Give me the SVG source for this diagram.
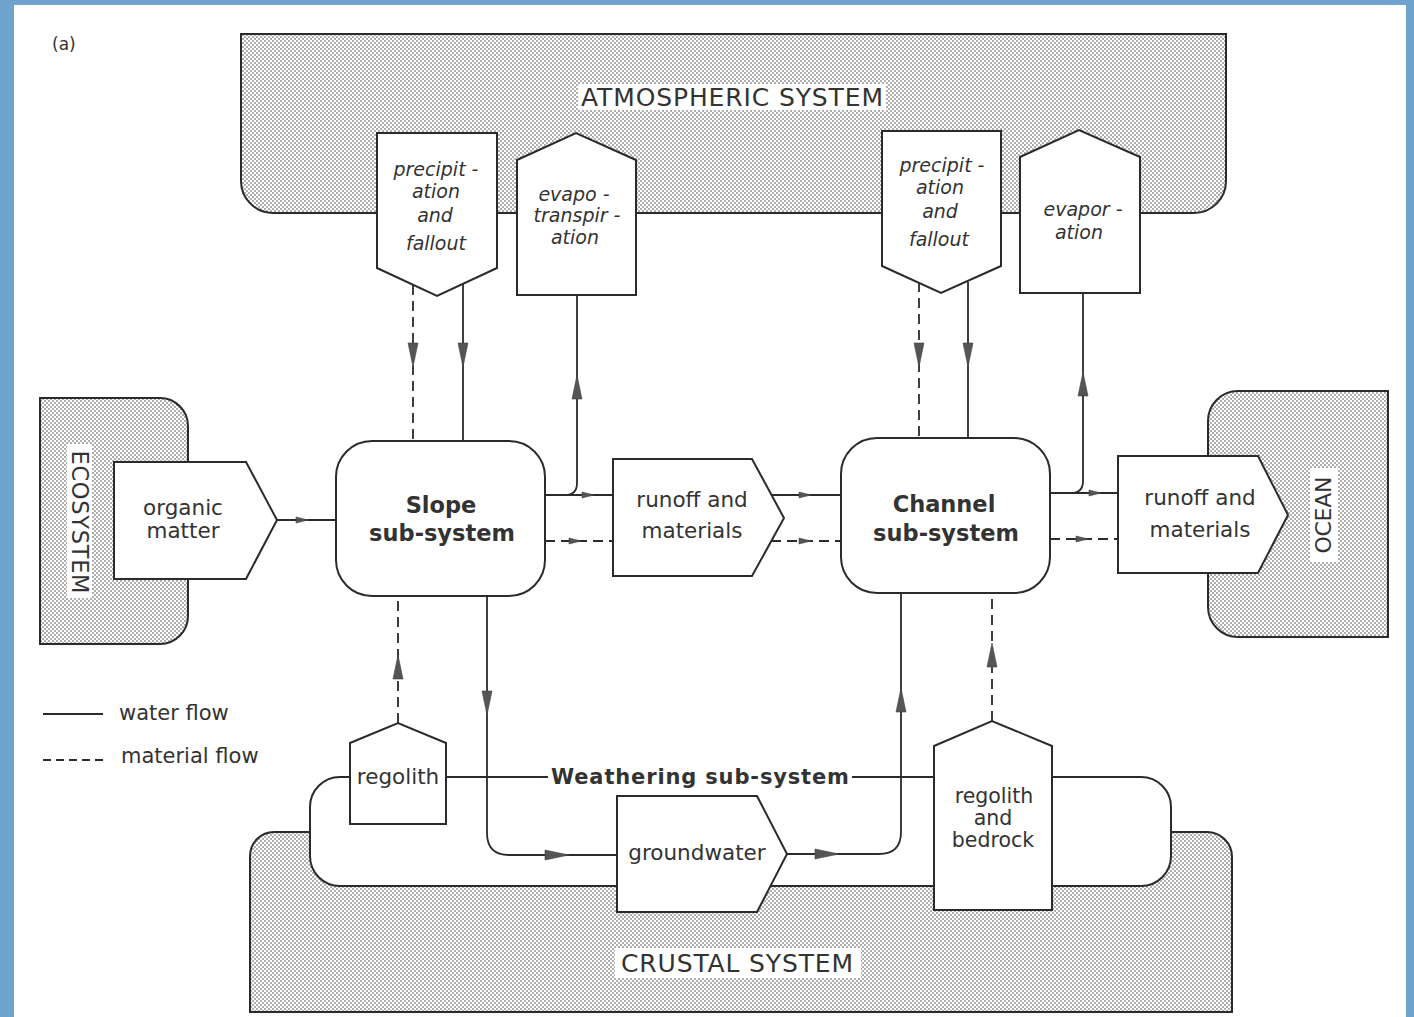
<svg xmlns="http://www.w3.org/2000/svg" width="1414" height="1017" viewBox="0 0 1414 1017">
<style>
.ln{stroke:#2b2b2b;stroke-width:1.8;fill:none}
.dash{stroke-dasharray:10 6}
.box{fill:#fff;stroke:#2b2b2b;stroke-width:2}
.shade{fill:url(#dots);stroke:#2b2b2b;stroke-width:2}
.ah{fill:#555;stroke:#444;stroke-width:0.6}
.t{font-family:"DejaVu Sans","Liberation Sans",sans-serif;font-size:21.5px;fill:#333;text-anchor:middle}
.it{font-style:italic;font-size:19px}
.b{font-weight:bold;font-size:22.5px}
.cap{font-size:25px}
.sm{font-size:20.5px}
.lg{text-anchor:start;font-size:21px}
</style>
<defs>
<pattern id="dots" width="4" height="4" patternUnits="userSpaceOnUse">
<rect width="4" height="4" fill="#fff"/>
<circle cx="1" cy="1" r="0.8" fill="#4a4a4a"/>
<circle cx="3" cy="3" r="0.8" fill="#4a4a4a"/>
</pattern>
<path id="big" d="M0,12 L-5,-12 L5,-12 Z"/>
<path id="small" d="M6,0 L-6,-3 L-6,3 Z"/>
</defs>

<rect x="0" y="0" width="1414" height="1017" fill="#6fa2cc"/>
<rect x="14" y="5" width="1392" height="1012" fill="#fff"/>

<text class="t" x="52" y="50" style="text-anchor:start;font-size:17px">(a)</text>

<g id="atmospheric-system">
<path class="shade" d="M241,34 H1226 V181 A32,32 0 0 1 1194,213 H273 A32,32 0 0 1 241,181 Z"/>
<rect x="578" y="84" width="308" height="26" fill="#fff"/>
<text class="t cap" x="732" y="106" textLength="302">ATMOSPHERIC SYSTEM</text>
</g>

<g id="crustal-system">
<path class="shade" d="M250,1012 V856 A24,24 0 0 1 274,832 H1207 A25,25 0 0 1 1232,857 V1012 Z"/>
<rect x="615" y="948" width="246" height="30" fill="#fff"/>
<text class="t cap" x="737" y="972" textLength="232">CRUSTAL SYSTEM</text>
</g>

<g id="ecosystem">
<path class="shade" d="M40,398 H160 A28,28 0 0 1 188,426 V616 A28,28 0 0 1 160,644 H40 Z"/>
<rect x="67" y="444" width="25" height="154" fill="#fff"/>
<text class="t" x="72" y="522" transform="rotate(90 72 522)" style="font-size:22.5px" textLength="143">ECOSYSTEM</text>
</g>

<g id="ocean">
<path class="shade" d="M1388,391 H1238 A30,30 0 0 0 1208,421 V607 A30,30 0 0 0 1238,637 H1388 Z"/>
<rect x="1310" y="468" width="28" height="94" fill="#fff"/>
<text class="t" x="1331" y="515" transform="rotate(-90 1331 515)" style="font-size:22px" textLength="77">OCEAN</text>
</g>

<g id="weathering-subsystem">
<rect class="box" x="310" y="777" width="861" height="109" rx="30"/>
<rect x="548" y="766" width="304" height="22" fill="#fff"/>
<text class="t b" x="700" y="784" style="font-size:21px" textLength="298">Weathering sub-system</text>
</g>

<g id="connectors">
<line class="ln dash" x1="413" y1="285" x2="413" y2="441"/>
<line class="ln" x1="463" y1="284" x2="463" y2="441"/>
<path class="ln" d="M545,495 H565 Q577,495 577,483 V295"/>
<line class="ln dash" x1="919" y1="282" x2="919" y2="438"/>
<line class="ln" x1="968" y1="282" x2="968" y2="438"/>
<path class="ln" d="M1050,493 H1071 Q1083,493 1083,481 V293"/>
<line class="ln" x1="277" y1="520" x2="336" y2="520"/>
<line class="ln" x1="545" y1="495" x2="613" y2="495"/>
<line class="ln dash" x1="545" y1="541" x2="613" y2="541"/>
<line class="ln" x1="771" y1="495" x2="841" y2="495"/>
<line class="ln dash" x1="771" y1="541" x2="841" y2="541"/>
<line class="ln" x1="1050" y1="493" x2="1118" y2="493"/>
<line class="ln dash" x1="1050" y1="539" x2="1118" y2="539"/>
<path class="ln" d="M487,596 V833 Q487,855 509,855 H617"/>
<line class="ln dash" x1="398" y1="723" x2="398" y2="596"/>
<path class="ln" d="M787,854 H879 Q901,854 901,832 V593"/>
<line class="ln dash" x1="992" y1="721" x2="992" y2="593"/>
<use href="#big" class="ah" transform="translate(413 355)"/>
<use href="#big" class="ah" transform="translate(463 355)"/>
<use href="#big" class="ah" transform="translate(577 387) rotate(180)"/>
<use href="#big" class="ah" transform="translate(919 355)"/>
<use href="#big" class="ah" transform="translate(968 355)"/>
<use href="#big" class="ah" transform="translate(1083 384) rotate(180)"/>
<use href="#big" class="ah" transform="translate(487 703)"/>
<use href="#big" class="ah" transform="translate(398 667) rotate(180)"/>
<use href="#big" class="ah" transform="translate(557 855) rotate(-90)"/>
<use href="#big" class="ah" transform="translate(827 854) rotate(-90)"/>
<use href="#big" class="ah" transform="translate(901 700) rotate(180)"/>
<use href="#big" class="ah" transform="translate(992 655) rotate(180)"/>
<use href="#small" class="ah" transform="translate(302 520)"/>
<use href="#small" class="ah" transform="translate(588 495)"/>
<use href="#small" class="ah" transform="translate(575 541)"/>
<use href="#small" class="ah" transform="translate(805 495)"/>
<use href="#small" class="ah" transform="translate(805 541)"/>
<use href="#small" class="ah" transform="translate(1095 493)"/>
<use href="#small" class="ah" transform="translate(1082 539)"/>
</g>

<g id="precipitation-1">
<polygon class="box" points="377,133 497,133 497,268 437,296 377,268"/>
<text class="t it" x="436" y="176">precipit -</text>
<text class="t it" x="436" y="198">ation</text>
<text class="t it" x="435" y="222">and</text>
<text class="t it" x="436" y="250">fallout</text>
</g>

<g id="evapotranspiration">
<polygon class="box" points="517,160 576,133 636,160 636,295 517,295"/>
<text class="t it" x="574" y="201">evapo -</text>
<text class="t it" x="577" y="222">transpir -</text>
<text class="t it" x="575" y="244">ation</text>
</g>

<g id="precipitation-2">
<polygon class="box" points="882,131 1001,131 1001,266 941,293 882,266"/>
<text class="t it" x="942" y="172">precipit -</text>
<text class="t it" x="940" y="194">ation</text>
<text class="t it" x="940" y="218">and</text>
<text class="t it" x="939" y="246">fallout</text>
</g>

<g id="evaporation">
<polygon class="box" points="1020,157 1079,130 1140,157 1140,293 1020,293"/>
<text class="t it" x="1083" y="216">evapor -</text>
<text class="t it" x="1079" y="239">ation</text>
</g>

<g id="organic-matter">
<polygon class="box" points="114,462 246,462 277,520 246,579 114,579"/>
<text class="t" x="183" y="515">organic</text>
<text class="t" x="183" y="538">matter</text>
</g>

<g id="slope-subsystem">
<rect class="box" x="336" y="441" width="209" height="155" rx="36"/>
<text class="t b" x="441" y="513">Slope</text>
<text class="t b" x="442" y="541">sub-system</text>
</g>

<g id="runoff-1">
<polygon class="box" points="613,459 752,459 784,518 752,576 613,576"/>
<text class="t" x="692" y="507">runoff and</text>
<text class="t" x="692" y="538">materials</text>
</g>

<g id="channel-subsystem">
<rect class="box" x="841" y="438" width="209" height="155" rx="36"/>
<text class="t b" x="944" y="512">Channel</text>
<text class="t b" x="946" y="541">sub-system</text>
</g>

<g id="runoff-2">
<polygon class="box" points="1118,456 1258,456 1288,515 1258,573 1118,573"/>
<text class="t" x="1200" y="505">runoff and</text>
<text class="t" x="1200" y="537">materials</text>
</g>

<g id="regolith">
<polygon class="box" points="350,743 398,723 446,743 446,824 350,824"/>
<text class="t" x="398" y="784">regolith</text>
</g>

<g id="groundwater">
<polygon class="box" points="617,796 757,796 787,854 757,912 617,912"/>
<text class="t" x="697" y="860">groundwater</text>
</g>

<g id="regolith-and-bedrock">
<polygon class="box" points="934,746 992,721 1052,746 1052,910 934,910"/>
<text class="t sm" x="994" y="803">regolith</text>
<text class="t sm" x="993" y="825">and</text>
<text class="t sm" x="993" y="847">bedrock</text>
</g>

<g id="legend">
<line class="ln" x1="43" y1="714" x2="103" y2="714"/>
<text class="t lg" x="119" y="720">water flow</text>
<line class="ln" x1="43" y1="760" x2="103" y2="760" style="stroke-dasharray:8 5"/>
<text class="t lg" x="121" y="763">material flow</text>
</g>
</svg>
